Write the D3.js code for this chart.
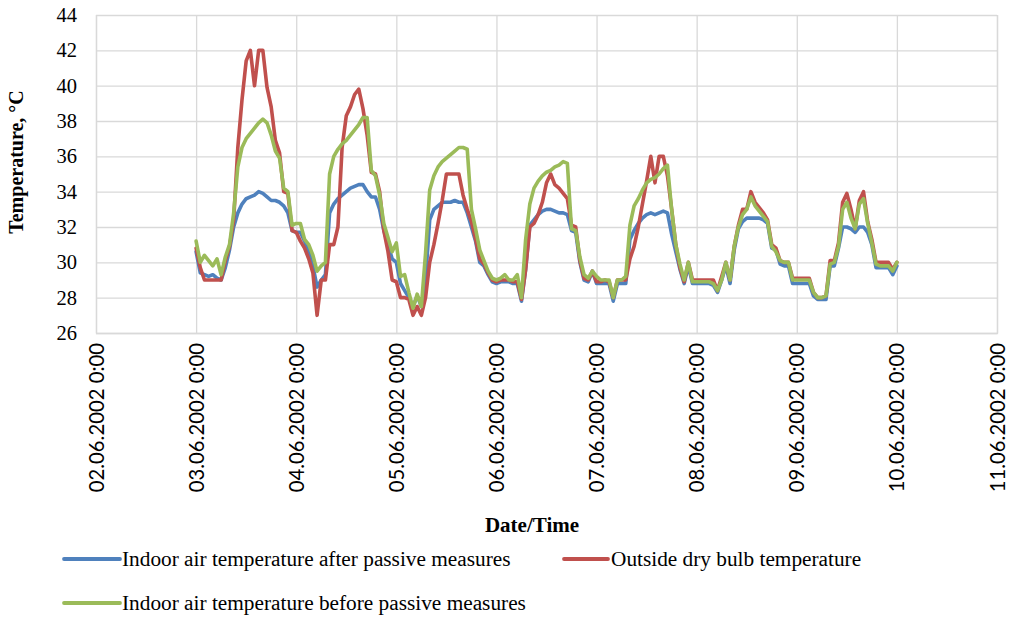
<!DOCTYPE html>
<html>
<head>
<meta charset="utf-8">
<script src="https://cdn.jsdelivr.net/npm/d3@7"></script>
<style>
body { margin:0; background:#fff; }
#plot { width:1018px; height:618px; }
</style>
</head>
<body>
<div id="plot" class="canvas"></div>
<script>
// hourly readings, 03.06.2002 0:00 -> 10.06.2002 0:00
var startDate = new Date(2002, 5, 3, 0, 0);

var indoorAfter = [
30.6,29.4,29.3,29.2,29.3,29.1,29.0,29.7,30.7,32.0,32.8,33.3,33.6,33.7,33.8,34.0,33.9,33.7,33.5,33.5,33.4,33.2,32.8,31.8,
31.7,31.7,31.2,30.6,29.8,28.6,29.0,29.3,32.8,33.3,33.6,33.8,34.0,34.2,34.3,34.4,34.4,34.0,33.7,33.7,33.0,31.8,31.0,30.2,
30.0,28.8,28.4,28.0,27.5,28.1,27.5,29.0,32.4,33.0,33.2,33.4,33.4,33.4,33.5,33.4,33.4,32.8,32.0,31.2,30.0,29.8,29.3,28.9,
28.8,28.9,28.9,28.9,28.8,28.8,27.8,29.6,32.1,32.4,32.7,32.9,33.0,33.0,32.9,32.8,32.8,32.7,31.8,31.7,30.0,29.0,28.9,29.5,
28.8,28.8,28.8,28.8,27.8,28.8,28.8,28.8,31.3,31.8,32.2,32.5,32.7,32.8,32.7,32.8,32.9,32.8,31.6,30.6,29.6,28.8,29.8,28.8,
28.8,28.8,28.8,28.8,28.7,28.3,29.0,29.8,28.8,30.7,31.9,32.3,32.5,32.5,32.5,32.5,32.4,32.2,30.8,30.7,29.9,29.8,29.8,28.8,
28.8,28.8,28.8,28.8,28.1,27.9,27.9,27.9,29.8,29.8,30.8,32.0,32.0,31.9,31.7,32.0,32.0,31.7,31.0,29.7,29.7,29.7,29.7,29.3,
29.8];

var outside = [
30.8,29.7,29.0,29.0,29.0,29.0,29.0,30.1,30.9,32.4,36.5,39.2,41.4,42.0,40.0,42.0,42.0,39.9,38.8,36.9,36.2,34.0,33.9,31.8,
31.7,31.2,30.8,30.2,29.4,27.0,29.0,29.0,31.0,31.0,32.0,36.5,38.3,38.8,39.5,39.8,38.7,37.2,35.1,35.0,34.0,31.8,30.6,29.0,
28.9,28.0,28.0,27.9,27.0,27.5,27.0,28.0,30.0,31.0,32.2,33.5,35.0,35.0,35.0,35.0,33.8,33.0,32.3,31.3,30.2,29.9,29.4,29.0,
28.9,29.0,29.0,29.0,28.9,28.9,27.9,29.6,32.0,32.2,32.7,33.4,34.5,35.0,34.4,34.2,33.9,33.6,32.1,32.0,30.1,29.1,29.0,29.5,
28.9,28.9,29.0,28.9,28.0,29.0,29.0,29.0,30.2,30.9,32.0,33.3,34.6,36.0,34.5,36.0,36.0,34.9,33.0,31.0,29.7,28.9,30.0,29.0,
29.0,29.0,29.0,29.0,29.0,28.4,29.2,30.0,29.0,30.9,32.1,33.0,33.0,34.0,33.4,33.1,32.8,32.4,31.0,30.8,30.1,30.0,30.0,29.1,
29.1,29.1,29.1,29.1,28.3,28.0,28.0,28.1,30.1,30.1,31.1,33.4,33.9,33.0,31.9,33.5,34.0,32.3,31.3,30.0,30.0,30.0,30.0,29.6,
30.0];

var indoorBefore = [
31.2,30.0,30.4,30.1,29.8,30.2,29.3,30.3,31.0,32.8,35.4,36.5,37.0,37.3,37.6,37.9,38.1,37.9,37.2,36.3,35.9,34.2,34.0,32.1,
32.2,32.2,31.3,31.0,30.4,29.5,29.8,30.0,35.0,36.0,36.4,36.7,36.9,37.2,37.5,37.8,38.2,38.2,35.2,34.9,33.8,32.2,31.4,30.6,
31.1,29.2,29.3,28.3,27.4,28.2,27.5,30.5,34.1,34.9,35.4,35.7,35.9,36.1,36.3,36.5,36.5,36.4,33.0,31.9,30.7,30.1,29.5,29.1,
29.0,29.1,29.3,29.0,29.0,29.3,28.0,31.3,33.3,34.2,34.6,34.9,35.1,35.2,35.4,35.5,35.7,35.6,31.9,31.8,30.3,29.3,29.1,29.5,
29.2,29.0,29.0,29.0,28.0,29.0,29.0,29.2,32.1,33.2,33.6,34.1,34.5,34.7,34.8,35.0,35.3,35.5,33.0,31.0,29.9,29.0,30.0,28.9,
28.9,28.9,28.9,28.9,28.8,28.4,29.0,30.0,29.0,30.9,32.0,32.7,33.0,33.7,33.2,32.9,32.6,32.3,30.9,30.6,30.1,30.0,30.0,29.0,
29.0,29.0,29.0,29.0,28.3,28.0,28.0,28.1,29.9,30.0,30.9,33.0,33.4,32.5,31.9,33.3,33.6,32.2,31.1,29.9,29.8,29.8,29.8,29.5,
30.0];

var yTicks = [26,28,30,32,34,36,38,40,42,44];
var seriesNames = ['Indoor air temperature after passive measures','Outside dry bulb temperature','Indoor air temperature before passive measures'];
var seriesColors = ['#4f81bd','#c0504d','#9bbb59'];

//Set up the drawing environment here
var margin = {t:15,r:21,b:285,l:96};
var width = document.getElementById('plot').clientWidth-margin.l-margin.r,
	height = document.getElementById('plot').clientHeight-margin.t-margin.b;

var svg = d3.select('.canvas')
	.append('svg')
	.attr('width',width+margin.l+margin.r)
	.attr('height',height+margin.t+margin.b);

var plot = svg.append('g')
	.attr('class','plot')
	.attr('transform','translate('+margin.l+','+margin.t+')');

var x = d3.scaleTime()
	.domain([new Date(2002,5,2), new Date(2002,5,11)])
	.range([0,width]);
var y = d3.scaleLinear()
	.domain([26,44])
	.range([height,0]);

var serif = '"Liberation Serif","Times New Roman",serif';
var fmt = d3.timeFormat('%d.%m.%Y %-H:%M');
var days = d3.timeDay.range(new Date(2002,5,2), new Date(2002,5,12));

//grid
plot.append('g')
	.call(d3.axisLeft(y).tickValues(yTicks).tickSize(-width).tickFormat(''))
	.call(function(g){
		g.select('.domain').remove();
		g.selectAll('line').attr('stroke','#d9d9d9').attr('stroke-width',1.3);
	});
plot.append('g')
	.attr('transform','translate(0,'+height+')')
	.call(d3.axisBottom(x).tickValues(days).tickSize(-height).tickFormat(''))
	.call(function(g){
		g.select('.domain').attr('stroke','#d9d9d9').attr('stroke-width',1.3);
		g.selectAll('line').attr('stroke','#d9d9d9').attr('stroke-width',1.3);
	});

//y labels
plot.append('g')
	.call(d3.axisLeft(y).tickValues(yTicks).tickSize(0).tickPadding(19))
	.call(function(g){
		g.select('.domain').remove();
		g.selectAll('text')
			.style('font-family',serif)
			.style('font-size','20.5px')
			.attr('fill','#000');
	});

//x labels
plot.append('g')
	.attr('transform','translate(0,'+height+')')
	.call(d3.axisBottom(x).tickValues(days).tickSize(0).tickFormat(fmt))
	.call(function(g){
		g.select('.domain').remove();
		g.selectAll('text')
			.attr('transform','rotate(-90)')
			.attr('x',-10)
			.attr('y',0)
			.attr('dy','0.35em')
			.style('text-anchor','end')
			.style('font-family','Lato,"Liberation Sans",sans-serif')
			.style('font-size','20.3px')
			.attr('fill','#000');
	});

//lines
var allSeries = [indoorAfter, outside, indoorBefore];
var line = d3.line()
	.x(function(d,i){ return x(d3.timeHour.offset(startDate,i)); })
	.y(function(d){ return y(d); });

allSeries.forEach(function(values,k){
	plot.append('path')
		.datum(values)
		.attr('d',line)
		.attr('fill','none')
		.attr('stroke',seriesColors[k])
		.attr('stroke-width',3.6)
		.attr('stroke-linejoin','round')
		.attr('stroke-linecap','round');
});

//axis titles
svg.append('text')
	.attr('transform','translate(23,162) rotate(-90)')
	.attr('text-anchor','middle')
	.style('font-family',serif)
	.style('font-size','20px')
	.style('font-weight','bold')
	.text('Temperature, °C');

svg.append('text')
	.attr('x',532)
	.attr('y',532)
	.attr('text-anchor','middle')
	.style('font-family',serif)
	.style('font-size','21px')
	.style('font-weight','bold')
	.text('Date/Time');

//legend
var legendPos = [{x:64,y:559},{x:564,y:559},{x:64,y:603}];
seriesNames.forEach(function(name,k){
	var lg = svg.append('g').attr('transform','translate('+legendPos[k].x+','+legendPos[k].y+')');
	lg.append('line')
		.attr('x1',0).attr('x2',k==1?44:56)
		.attr('stroke',seriesColors[k])
		.attr('stroke-width',3.8)
		.attr('stroke-linecap','round');
	lg.append('text')
		.attr('x',k==1?47:58)
		.attr('dy','0.35em')
		.style('font-family',serif)
		.style('font-size','21.3px')
		.text(name);
});
</script>
</body>
</html>
